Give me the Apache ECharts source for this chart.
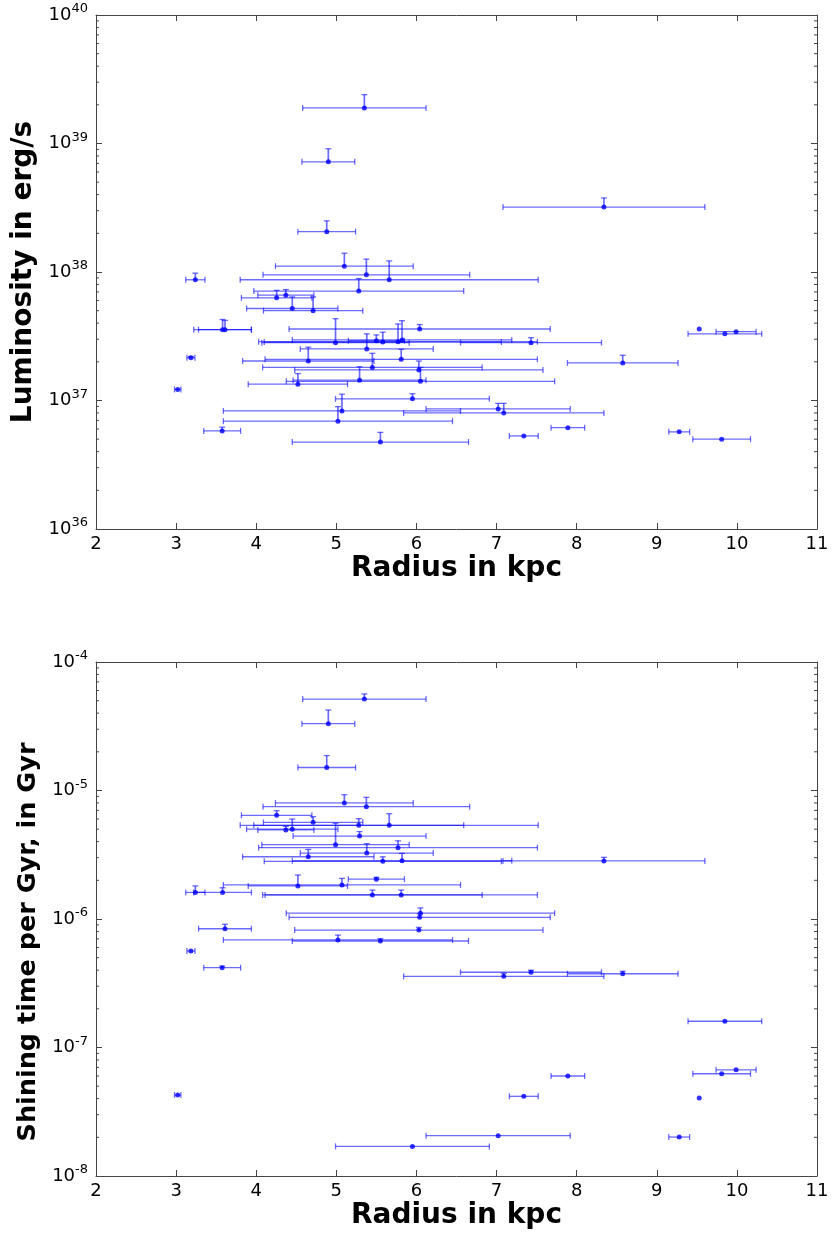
<!DOCTYPE html>
<html><head><meta charset="utf-8">
<script src="https://cdn.jsdelivr.net/npm/echarts@6/dist/echarts.min.js"></script>
<style>html,body{margin:0;padding:0;background:#fff}#c{width:832px;height:1233px}</style>
</head><body><div id="c"></div>
<script>
// ---- data ----
const radius = [5.35,4.90,4.88,8.34,5.10,5.375,5.66,3.24,5.28,4.255,4.37,4.45,4.71,3.58,3.61,6.04,4.99,5.38,5.50,5.58,5.77,5.82,7.43,4.65,5.81,5.45,6.03,5.29,6.05,4.52,3.185,3.02,5.95,5.07,5.02,7.02,7.09,3.575,5.55,7.89,7.34,9.28,9.81,9.53,9.99,9.85,8.575];
const radiusErr = [0.77,0.33,0.36,1.26,0.86,1.29,1.86,0.12,1.31,0.44,0.35,0.57,0.62,0.36,0.33,1.63,0.92,0.83,0.35,1.48,1.74,1.37,0.88,0.82,1.70,1.37,1.55,0.83,1.675,0.62,0.05,0.04,0.96,1.48,1.43,0.9,1.25,0.23,1.1,0.21,0.18,0.13,0.36,0,0.25,0.46,0.69];
const luminosity = [1.89e39,7.2e38,2.06e38,3.2e38,1.11e38,9.5e37,8.7e37,8.7e37,7.1e37,6.3e37,6.6e37,5.2e37,5.0e37,3.56e37,3.56e37,3.6e37,2.82e37,2.52e37,2.92e37,2.85e37,2.87e37,2.96e37,2.82e37,2.03e37,2.09e37,1.81e37,1.73e37,1.44e37,1.41e37,1.34e37,2.15e37,1.22e37,1.03e37,8.3e36,6.9e36,8.6e36,8.0e36,5.8e36,4.75e36,6.15e36,5.3e36,5.7e36,5.0e36,3.6e37,3.43e37,3.3e37,1.96e37];
const luminosityUpper = [2.4e39,9.1e38,2.5e38,3.77e38,1.4e38,1.26e38,1.22e38,9.8e37,8.9e37,7.2e37,7.3e37,6.4e37,6.4e37,4.27e37,4.2e37,3.9e37,4.33e37,3.3e37,3.24e37,3.4e37,3.94e37,4.18e37,3.08e37,2.6e37,2.5e37,2.33e37,2.03e37,1.83e37,1.81e37,1.62e37,2.2e37,null,1.13e37,1.12e37,8.96e36,9.5e36,9.5e36,6.2e36,5.65e36,null,null,null,null,null,null,null,2.25e37];
const shiningTime = [5.15e-5,3.31e-5,1.51e-5,2.83e-6,8.0e-6,7.48e-6,5.36e-6,1.61e-6,5.36e-6,6.41e-6,4.93e-6,5.0e-6,5.65e-6,1.61e-6,8.4e-7,1.03e-6,3.79e-6,3.26e-6,2.04e-6,2.81e-6,3.59e-6,2.84e-6,3.85e-7,3.05e-6,1.54e-6,1.54e-6,8.2e-7,4.42e-6,1.11e-6,1.81e-6,5.64e-7,4.27e-8,1.70e-8,1.84e-6,6.87e-7,2.06e-8,3.58e-7,4.18e-7,6.74e-7,6.0e-8,4.17e-8,2.01e-8,6.25e-8,4.05e-8,6.7e-8,1.6e-7,3.75e-7];
const shiningUpper = [5.64e-5,4.23e-5,1.87e-5,3.02e-6,9.27e-6,8.85e-6,6.6e-6,1.81e-6,6.04e-6,6.97e-6,5.26e-6,6.0e-6,6.25e-6,1.75e-6,9.1e-7,1.1e-6,5.56e-6,3.86e-6,2.11e-6,3.05e-6,4.06e-6,3.24e-6,3.99e-7,3.48e-6,1.68e-6,1.68e-6,8.6e-7,4.79e-6,1.22e-6,2.2e-6,null,null,null,2.07e-6,7.5e-7,null,3.78e-7,4.3e-7,7.03e-7,null,null,null,null,null,null,null,3.92e-7];
const xMin = 2, xMax = 11, xStep = 1;
const lumDecades = [36, 40];
const shineDecades = [-8, -4];

// ---- helpers ----
function minorValues(d) {
  const out = [];
  for (let e = d[0]; e < d[1]; e++) for (let k = 2; k <= 9; k++) out.push([xMin, k * Math.pow(10, e)]);
  return out;
}
const FONT = 'DejaVu Sans';
const BLUE = '#0000ff';
const BAR = 'rgba(0,0,255,0.58)';
function errItems(ys, ups) {
  return radius.map((x, i) => [x, ys[i], radiusErr[i], ups[i] == null ? ys[i] : ups[i]]);
}
function renderErr(params, api) {
  const x = api.value(0), y = api.value(1), xe = api.value(2), yu = api.value(3);
  const c = api.coord([x, y]);
  const ch = [];
  const st = { stroke: BAR, lineWidth: 1.3, fill: null };
  if (xe > 0) {
    const l = api.coord([x - xe, y]), r = api.coord([x + xe, y]);
    ch.push({ type: 'line', shape: { x1: l[0], y1: l[1], x2: r[0], y2: r[1] }, style: st });
    ch.push({ type: 'line', shape: { x1: l[0], y1: l[1] - 3, x2: l[0], y2: l[1] + 3 }, style: st });
    ch.push({ type: 'line', shape: { x1: r[0], y1: r[1] - 3, x2: r[0], y2: r[1] + 3 }, style: st });
  }
  if (yu > y) {
    const u = api.coord([x, yu]);
    ch.push({ type: 'line', shape: { x1: c[0], y1: c[1], x2: u[0], y2: u[1] }, style: { stroke: BAR, lineWidth: 1.7 } });
    ch.push({ type: 'line', shape: { x1: u[0] - 3, y1: u[1], x2: u[0] + 3, y2: u[1] }, style: st });
  }
  return { type: 'group', children: ch };
}
function renderMinor(params, api) {
  const v = api.value(1);
  const a = api.coord([xMin, v]), b = api.coord([xMax, v]);
  const st = { stroke: '#444', lineWidth: 1 };
  return { type: 'group', children: [
    { type: 'line', shape: { x1: a[0], y1: a[1], x2: a[0] + 3, y2: a[1] }, style: st },
    { type: 'line', shape: { x1: b[0] - 3, y1: b[1], x2: b[0], y2: b[1] }, style: st }
  ]};
}
const axisLine = { show: true, lineStyle: { color: '#444', width: 1 } };
const tick = { show: true, inside: true, length: 6, lineStyle: { color: '#444' } };
const rich = {
  m: { fontSize: 18, fontFamily: FONT, color: '#000', lineHeight: 22 },
  s: { fontSize: 13, fontFamily: FONT, color: '#000', padding: [0, 0, 12, 0] }
};
const logFmt = v => '{m|10}{s|' + Math.round(Math.log10(v)) + '}';
function xAxes(gi) {
  return [
    { type: 'value', gridIndex: gi, min: xMin, max: xMax, interval: xStep, position: 'bottom',
      axisLine, axisTick: tick, splitLine: { show: false },
      axisLabel: { fontSize: 18, fontFamily: FONT, color: '#000', margin: 6 },
      name: 'Radius in kpc', nameLocation: 'middle', nameGap: 26,
      nameTextStyle: { fontSize: 28, fontWeight: 'bold', fontFamily: FONT, color: '#000' } },
    { type: 'value', gridIndex: gi, min: xMin, max: xMax, interval: xStep, position: 'top',
      axisLine, axisTick: tick, splitLine: { show: false }, axisLabel: { show: false } }
  ];
}
function yAxes(gi, d, name, nameStyle, gap) {
  return [
    { type: 'log', logBase: 10, gridIndex: gi, min: Math.pow(10, d[0]), max: Math.pow(10, d[1]), splitNumber: d[1] - d[0],
      position: 'left', axisLine, axisTick: tick, splitLine: { show: false },
      axisLabel: { formatter: logFmt, rich, margin: 8 },
      name, nameLocation: 'middle', nameGap: gap,
      nameTextStyle: Object.assign({ fontWeight: 'bold', fontFamily: FONT, color: '#000' }, nameStyle) },
    { type: 'log', logBase: 10, gridIndex: gi, min: Math.pow(10, d[0]), max: Math.pow(10, d[1]), splitNumber: d[1] - d[0],
      position: 'right', axisLine, axisTick: tick, splitLine: { show: false }, axisLabel: { show: false } }
  ];
}
function panelSeries(gi, ys, ups, d) {
  const xa = gi * 2, ya = gi * 2;
  return [
    { type: 'custom', xAxisIndex: xa, yAxisIndex: ya, data: minorValues(d), renderItem: renderMinor, silent: true, z: 1 },
    { type: 'custom', xAxisIndex: xa, yAxisIndex: ya, data: errItems(ys, ups), renderItem: renderErr, silent: true, z: 2, encode: { x: 0, y: 1 } },
    { type: 'scatter', xAxisIndex: xa, yAxisIndex: ya, data: radius.map((x, i) => [x, ys[i]]), symbolSize: 5,
      itemStyle: { color: BLUE }, silent: true, z: 3 }
  ];
}
const chart = echarts.init(document.getElementById('c'), null, { renderer: 'canvas' });
chart.setOption({
  animation: false,
  backgroundColor: '#fff',
  grid: [
    { left: 96, right: 15, top: 15, height: 514 },
    { left: 96, right: 15, top: 662, height: 514 }
  ],
  xAxis: [...xAxes(0), ...xAxes(1)],
  yAxis: [
    ...yAxes(0, lumDecades, 'Luminosity in erg/s', { fontSize: 28 }, 55),
    ...yAxes(1, shineDecades, 'Shining time per Gyr, in Gyr', { fontSize: 25.5, padding: [0, 46, 0, 0] }, 52)
  ],
  series: [...panelSeries(0, luminosity, luminosityUpper, lumDecades), ...panelSeries(1, shiningTime, shiningUpper, shineDecades)]
});
</script>
</body></html>
